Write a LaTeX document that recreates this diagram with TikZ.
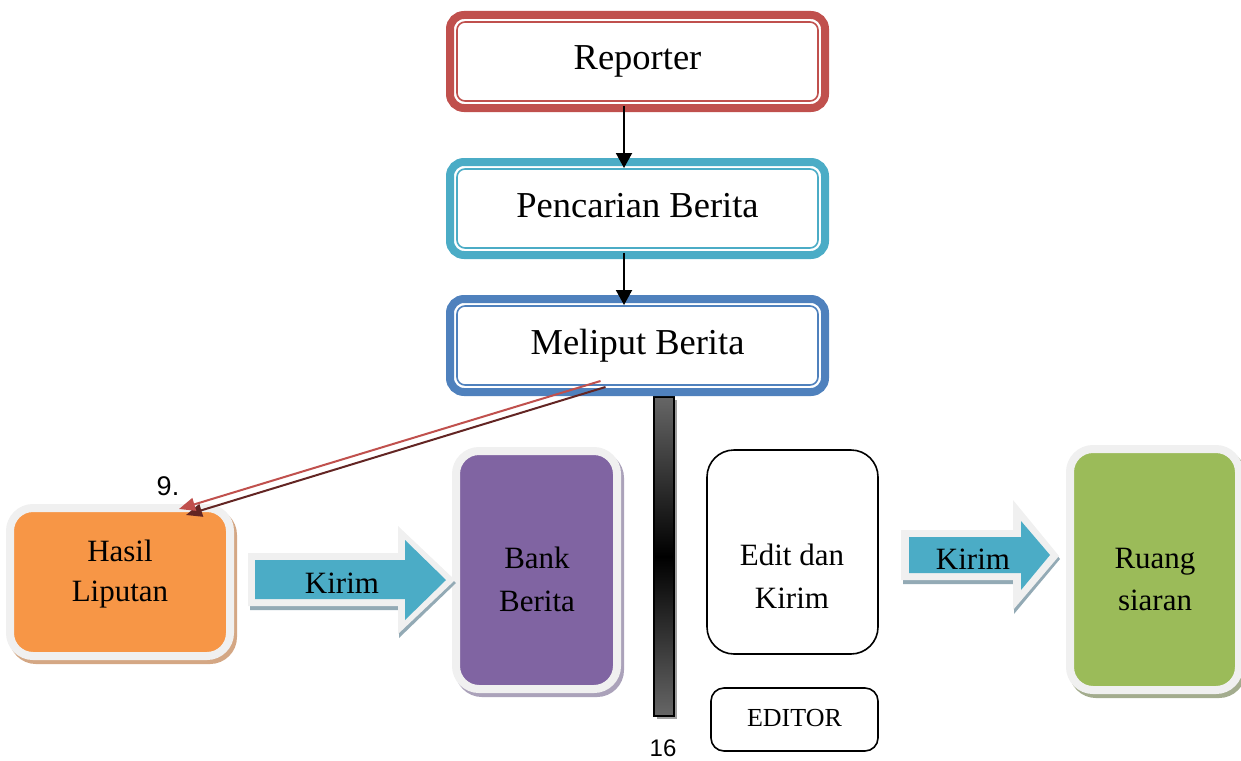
\documentclass[tikz,border=0pt]{standalone}
\usepackage{fontspec}
\setmainfont{Liberation Serif}
\newfontfamily\arialfont{Liberation Sans}
\usetikzlibrary{calc,arrows.meta,backgrounds}

\definecolor{repRed}{HTML}{C0504D}
\definecolor{penTeal}{HTML}{4BACC6}
\definecolor{melBlue}{HTML}{4F81BD}
\definecolor{hasOrange}{HTML}{F79646}
\definecolor{bankPurple}{HTML}{8064A2}
\definecolor{ruangGreen}{HTML}{9BBB59}
\definecolor{glowGray}{HTML}{F0F0F0}
\definecolor{hasShadow}{HTML}{D4A784}
\definecolor{bankShadow}{HTML}{ABA2BA}
\definecolor{ruangShadow}{HTML}{A3AC8E}
\definecolor{kirimShadow}{HTML}{93AAB5}
\definecolor{darkRed}{HTML}{632523}
\definecolor{barGray}{HTML}{666666}

\begin{document}
\begin{tikzpicture}[x=1pt,y=-1pt,
  topbox/.style={draw=#1, line width=8pt, rounded corners=14pt, fill=white,
    minimum width=375pt, minimum height=93pt, inner sep=0pt, outer sep=0pt,
    text height=17pt, text depth=0pt, font=\fontsize{36.5}{40}\selectfont},
  innerline/.style={draw=#1, line width=1.6pt, rounded corners=8pt},
  glowbox/.style={fill=#1, draw=glowGray, line width=8pt, rounded corners=23pt,
    inner sep=0pt, outer sep=0pt},
  boxshadow/.style={fill=#1, draw=#1, line width=8pt, rounded corners=23pt},
  plainbox/.style={draw=black, line width=1.6pt, fill=white, inner sep=0pt},
  lbl/.style={anchor=base, inner sep=0pt, font=\fontsize{31}{40}\selectfont},
  flow/.style={draw=black, line width=2pt, -{Triangle[length=15pt,width=16pt]}},
  diag/.style={line width=2pt, draw=#1, -{Triangle[length=16pt,width=13pt]}, fill=#1},
  kirimglow/.style={fill=glowGray},
  kirimshadow/.style={fill=kirimShadow},
  kirimbody/.style={fill=penTeal}
]
\useasboundingbox (0,0) rectangle (1241,760);

% vertical divider bar with its drop shadow
\fill[gray!75] (657,400) rectangle (677,719);
\node[draw=black, line width=2pt, minimum width=20pt, minimum height=319pt,
  inner sep=0pt, top color=barGray, bottom color=barGray, middle color=black]
  (bar) at (664,556.5) {};

% reporter column
\node[topbox=repRed] (rep) at (637.5,61.5) {Reporter};
\node[topbox=penTeal] (pen) at (637.5,208.5) {Pencarian Berita};
\node[topbox=melBlue] (mel) at (637.5,345.5) {Meliput Berita};
\foreach \b/\c in {rep/repRed, pen/penTeal, mel/melBlue}
  \draw[innerline=\c] ($(\b.north west)+(7,7)$) rectangle ($(\b.south east)+(-7,-7)$);

\draw[flow] ($(rep.south)+(-13.5,-2)$) -- ($(pen.north)+(-13.5,6)$);
\draw[flow] ($(pen.south)+(-13.5,-2)$) -- ($(mel.north)+(-13.5,6)$);

% coloured boxes of the lower row
\node[glowbox=hasOrange, minimum width=220pt, minimum height=148pt] (has) at (120,582) {};
\node[glowbox=bankPurple, minimum width=161pt, minimum height=238pt] (bank) at (536.5,570) {};
\node[glowbox=ruangGreen, minimum width=169pt, minimum height=241pt] (ruang) at (1154.5,569.5) {};

\begin{scope}[on background layer]
  \draw[boxshadow=hasShadow] ($(has.north west)+(3,4)$) rectangle ($(has.south east)+(3,4)$);
  \draw[boxshadow=bankShadow] ($(bank.north west)+(3,4)$) rectangle ($(bank.south east)+(3,4)$);
  \draw[boxshadow=ruangShadow] ($(ruang.north west)+(3,4)$) rectangle ($(ruang.south east)+(3,4)$);
\end{scope}

\node[lbl] (hasA) at (120,561) {Hasil};
\node[lbl] (hasB) at (120,601) {Liputan};
\node[lbl] (bankA) at (537,568) {Bank};
\node[lbl] (bankB) at (537,611) {Berita};
\node[lbl] (ruangA) at (1155,568) {Ruang};
\node[lbl] (ruangB) at (1155,610) {siaran};

% editor boxes
\node[plainbox, rounded corners=27pt, minimum width=171pt, minimum height=204pt] (edit) at (792.5,552) {};
\node[lbl] (editA) at (792,565) {Edit dan};
\node[lbl] (editB) at (792,608) {Kirim};
\node[plainbox, rounded corners=13pt, minimum width=167pt, minimum height=63pt,
  text height=13pt, text depth=0pt, font=\fontsize{26}{30}\selectfont] (editor) at (794.5,719.5) {EDITOR};

% block arrow: Hasil Liputan -> Bank Berita
\fill[kirimshadow] (250,556) -- (398,556) -- (398,529) -- (456,583) -- (399,638) -- (399,610) -- (250,610) -- cycle;
\fill[kirimglow] (248,553) -- (398,553) -- (398,526) -- (455,580) -- (398,634) -- (398,606) -- (248,606) -- cycle;
\fill[kirimbody] (255,560) -- (405,560) -- (405,540) -- (446,580) -- (405,620) -- (405,599) -- (255,599) -- cycle;
\node[lbl] (kirimA) at (342,593) {Kirim};

% block arrow: Edit dan Kirim -> Ruang siaran
\fill[kirimshadow] (903,533) -- (1013,533) -- (1013,503) -- (1060,559) -- (1014,614) -- (1014,584) -- (903,584) -- cycle;
\fill[kirimglow] (901,530) -- (1013,530) -- (1013,500) -- (1059,556) -- (1013,610) -- (1013,580) -- (901,580) -- cycle;
\fill[kirimbody] (909,537) -- (1021,537) -- (1021,521) -- (1050,555) -- (1021,590) -- (1021,573) -- (909,573) -- cycle;
\node[lbl] (kirimB) at (973,569) {Kirim};

% reported material goes to Hasil Liputan
\draw[diag=darkRed] ($(mel.south)+(-32,-5)$) -- ($(has.north)+(66,7)$);
\draw[diag=repRed] ($(mel.south)+(-37,-11)$) -- ($(has.north)+(59,1)$);
\node[anchor=base, inner sep=0pt, font=\arialfont\fontsize{27}{30}\selectfont] (nine) at (168,495) {9.};

% page number below the divider
\node[anchor=base, inner sep=0pt, font=\arialfont\fontsize{24}{26}\selectfont] (pg) at (663,756) {16};
\end{tikzpicture}
\end{document}
